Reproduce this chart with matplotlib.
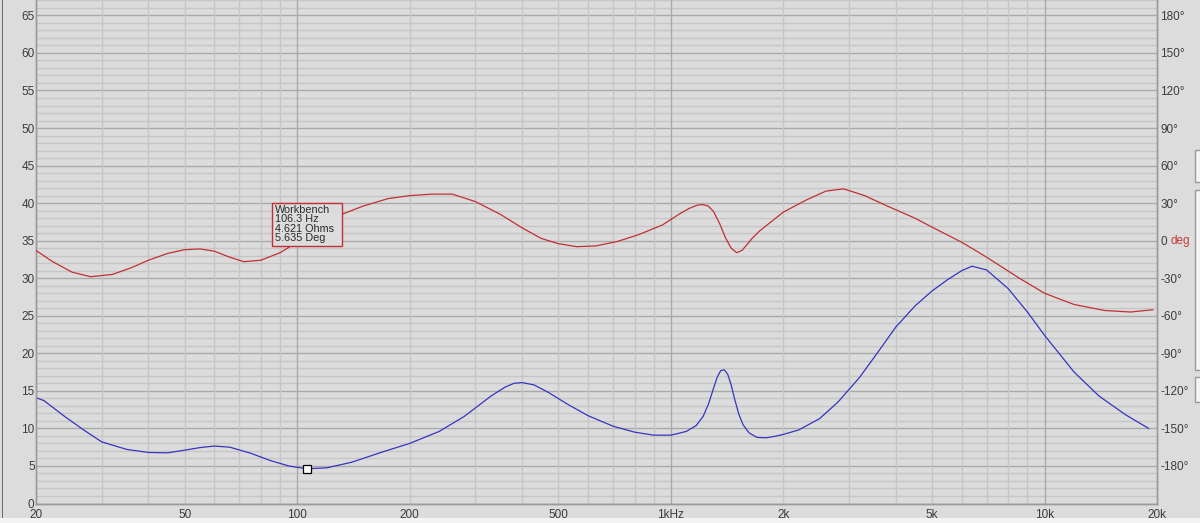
import matplotlib
matplotlib.use('Agg')
import matplotlib.pyplot as plt
from matplotlib.patches import Rectangle

plt.rcParams['font.family'] = ['Liberation Sans', 'DejaVu Sans']

# impedance curve (ohms, left axis)
imp_freq = [20, 21, 24, 27, 30, 35, 40, 45, 50, 55, 60, 66, 75, 85, 95, 106,
            120, 140, 170, 200, 240, 280, 330, 360, 380, 400, 430, 470, 530,
            600, 700, 800, 900, 1000, 1100, 1170, 1220, 1260, 1300, 1330,
            1360, 1390, 1420, 1450, 1480, 1520, 1560, 1620, 1700, 1800, 1900,
            2000, 2200, 2500, 2800, 3200, 3600, 4000, 4500, 5000, 5500, 6000,
            6400, 7000, 8000, 9000, 10000, 12000, 14000, 16500, 19000]
imp_ohm = [14.1, 13.7, 11.5, 9.7, 8.2, 7.2, 6.8, 6.75, 7.1, 7.45, 7.65, 7.5,
           6.7, 5.7, 5.0, 4.62, 4.75, 5.5, 6.9, 8.0, 9.6, 11.6, 14.3, 15.5,
           16.0, 16.1, 15.8, 14.8, 13.2, 11.7, 10.3, 9.5, 9.1, 9.1, 9.6, 10.4,
           11.6, 13.2, 15.3, 16.8, 17.7, 17.8, 17.2, 15.8, 14.0, 11.9, 10.5,
           9.4, 8.8, 8.75, 8.95, 9.2, 9.8, 11.3, 13.5, 16.8, 20.3, 23.5, 26.3,
           28.3, 29.8, 31.0, 31.6, 31.1, 28.6, 25.5, 22.4, 17.5, 14.3, 11.8,
           10.0]

# phase curve (degrees, right axis)
ph_freq = [20, 22, 25, 28, 32, 36, 40, 45, 50, 55, 60, 66, 72, 80, 90, 100,
           106, 115, 130, 150, 175, 200, 230, 260, 300, 350, 400, 450, 500,
           560, 630, 720, 820, 950, 1050, 1120, 1180, 1220, 1260, 1300, 1350,
           1400, 1450, 1500, 1550, 1600, 1650, 1720, 1800, 2000, 2300, 2600,
           2900, 3300, 3800, 4500, 5000, 6000, 7000, 8500, 10000, 12000,
           14500, 17000, 19500]
ph_left = [33.7, 32.3, 30.8, 30.2, 30.5, 31.4, 32.4, 33.3, 33.8, 33.9, 33.6,
           32.8, 32.2, 32.4, 33.4, 34.8, 35.9, 36.9, 38.4, 39.6, 40.6, 41.0,
           41.2, 41.2, 40.2, 38.5, 36.7, 35.3, 34.6, 34.2, 34.3, 34.9, 35.8,
           37.1, 38.5, 39.3, 39.75, 39.8, 39.6, 38.9, 37.3, 35.4, 34.0, 33.4,
           33.7, 34.5, 35.3, 36.2, 37.0, 38.8, 40.4, 41.6, 41.9, 41.0, 39.6,
           38.0, 36.8, 34.8, 32.8, 30.1, 28.0, 26.5, 25.7, 25.5, 25.8]
ph_deg = [(v - 35) * 6 for v in ph_left]

x_ticks = [20, 50, 100, 200, 500, 1000, 2000, 5000, 10000, 20000]
x_labels = ['20', '50', '100', '200', '500', '1kHz', '2k', '5k', '10k', '20k']
y_ticks = list(range(0, 70, 5))
deg_ticks = list(range(-180, 210, 30))

cursor = (106.3, 4.621, 5.635)

bg = '#dcdcdc'
minor_c = '#c6c6c6'
major_c = '#a9a9a9'
txt_c = '#3c3c3c'
W, H = 1200, 523

fig = plt.figure(figsize=(12, 5.23), dpi=100, facecolor=bg)
ax = fig.add_axes([36 / W, 19.5 / H, 1121 / W, 503.5 / H])
ax.set_facecolor(bg)
ax.set_xscale('log')
ax.set_xlim(20, 20000)
ax.set_ylim(0, 67.05)

# grid
for v in range(0, 68):
    major = v % 5 == 0
    ax.axhline(v, color=major_c if major else minor_c, lw=1.0, zorder=1)
for dec in [10, 100, 1000, 10000]:
    for m in range(1, 10):
        f = dec * m
        if 20 < f < 20000:
            ax.axvline(f, color=major_c if m == 1 else minor_c, lw=1.0, zorder=1)

ax.plot(imp_freq, imp_ohm, color='#3535c0', lw=0.9, zorder=3)

ax2 = ax.twinx()
ax2.set_ylim((0 - 35) * 6, (67.05 - 35) * 6)
ax2.plot(ph_freq, ph_deg, color='#c03035', lw=0.9, zorder=3)

ax.set_xticks(x_ticks)
ax.set_xticklabels(x_labels)
ax.xaxis.set_minor_locator(matplotlib.ticker.NullLocator())
ax.set_yticks(y_ticks)
ax.set_yticklabels([str(v) for v in y_ticks])
ax2.set_yticks(deg_ticks)
ax2.set_yticklabels(['0' if d == 0 else '%d\u00b0' % d for d in deg_ticks])

ax.tick_params(axis='both', length=0, labelsize=8.5, colors=txt_c)
ax.tick_params(axis='x', pad=4)
ax.tick_params(axis='y', pad=1)
ax2.tick_params(axis='y', length=0, labelsize=8.5, colors=txt_c, pad=2.5)
ax2.annotate('deg', xy=(1.0, (0 + 210) / (67.05 * 6)), xycoords='axes fraction',
             xytext=(9.6, 0), textcoords='offset points', va='center', ha='left',
             fontsize=8.5, color='#c83a3a')

for a in (ax, ax2):
    for s in a.spines.values():
        s.set_color('#9a9a9a')
        s.set_linewidth(1.0)
    a.spines['top'].set_visible(False)

# cursor marker and readout
ax.plot([cursor[0]], [cursor[1]], marker='s', ms=5.5, mfc='white', mec='black',
        mew=0.9, zorder=5, clip_on=False)
fig.patches.append(Rectangle((272 / W, 1 - 246 / H), 70 / W, 43 / H,
                             transform=fig.transFigure, fc=bg, ec='#c03035',
                             lw=1.0, zorder=10))
fig.text(275 / W, 1 - 204.5 / H,
         'Workbench\n%.1f Hz\n%.3f Ohms\n%.3f Deg' % cursor,
         fontsize=7.8, color='#2a2a2a', va='top', ha='left', linespacing=0.94,
         zorder=11)

# window frame bits
fig.patches.append(Rectangle((0, 0), 1, 5 / H, transform=fig.transFigure,
                             fc='#f4f4f4', ec='none'))
fig.patches.append(Rectangle((1.5 / W, 5 / H), 1.5 / W, 518 / H,
                             transform=fig.transFigure, fc='#6e6e6e', ec='none'))
for top, bot in [(150, 182), (190, 370), (377, 402)]:
    fig.patches.append(Rectangle((1195 / W, 1 - bot / H), 10 / W, (bot - top) / H,
                                 transform=fig.transFigure, fc='#f4f4f4',
                                 ec='#9a9a9a', lw=1))

fig.savefig('out.png', dpi=100, facecolor=bg)
